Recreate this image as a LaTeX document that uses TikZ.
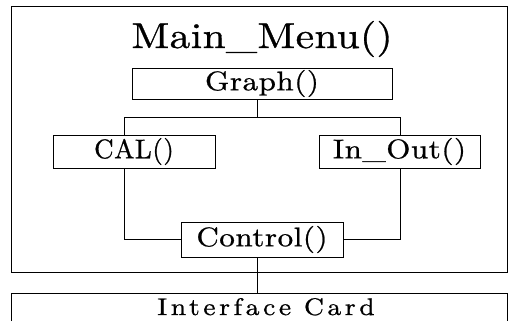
\documentclass[tikz,border=0pt]{standalone}
\usepackage{fontspec}
\usepackage{tikz}

\newfontfamily\titlefam{lmroman10-regular.otf}[FakeStretch=1.15, FakeBold=0.8, LetterSpace=1]
\newfontfamily\boxfam{lmroman10-regular.otf}[FakeStretch=1.15, FakeBold=0.8, LetterSpace=2]
\newfontfamily\calfam{lmroman10-regular.otf}[FakeBold=0.8, LetterSpace=2]
\newfontfamily\cardfam{lmroman10-regular.otf}[FakeStretch=1.15, FakeBold=0.8, LetterSpace=15]
\newcommand{\titlefont}{\titlefam\fontsize{36}{40}\selectfont}
\newcommand{\boxfont}{\boxfam\fontsize{27}{30}\selectfont}
\newcommand{\calfont}{\calfam\fontsize{27}{30}\selectfont}
\newcommand{\cardfont}{\cardfam\fontsize{24}{28}\selectfont}

\begin{document}
\begin{tikzpicture}[x=1pt, y=-1pt, line width=1pt,
	box/.style={draw, inner sep=0pt, font=\boxfont}]
	\useasboundingbox (0,0) rectangle (508,321);
	\node (menu) at (259,139.5) [draw, minimum width=496pt, minimum height=265pt, inner sep=0pt] {};
	\node (title) at (262,48) [anchor=base, inner sep=0pt, font=\titlefont] {Main\_Menu()};
	\node (graph) at (262,83.5) [box, minimum width=260pt, minimum height=31pt] {Graph()};
		\node (cal) at (134,151.5) [box, minimum width=162pt, minimum height=33pt, font=\calfont] {CAL()};
		\node (inout) at (399.5,151.5) [box, minimum width=161pt, minimum height=33pt] {In\_Out()};
	\node (control) at (262,239.5) [box, minimum width=162pt, minimum height=35pt] {Control()};
	% interface card runs off the bottom edge
	\draw (11,321) |- (507,293) -- (507,321);
	\node (card) at (266,315) [anchor=base, font=\cardfont, inner sep=0pt] {Interface Card};
	\coordinate (split) at (257,117);
	\coordinate (lbranch) at (124,117);
	\coordinate (rbranch) at (400,117);
	\coordinate (cardtop) at (257,293);
	\draw (graph.south -| split) -- (split)
		  (lbranch |- cal.north) -- (lbranch) -- (rbranch) -- (rbranch |- inout.north)
		  (lbranch |- cal.south) -- (lbranch |- control.west) -- (control.west)
		  (rbranch |- inout.south) -- (rbranch |- control.east) -- (control.east)
		  (control.south -| split) -- (cardtop);
\end{tikzpicture}
\end{document}
